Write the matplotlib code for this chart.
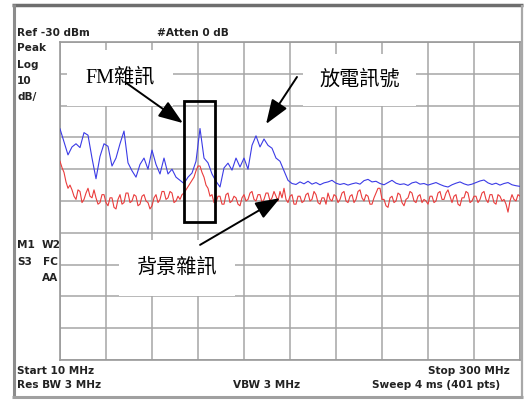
import numpy as np
import matplotlib
matplotlib.use("Agg")
import matplotlib.pyplot as plt
from matplotlib.patches import Rectangle

# sweep settings (MHz) and screen scale
f_start, f_stop = 10, 300
ref_level = -30
db_per_div = 10

# trace 1 (blue): discharge measurement, dBm
blue_trace = [
    -57.3, -61.4, -65.5, -63.0, -62.0, -63.2, -58.5, -59.3, -66.5, -73.0,
    -66.0, -62.0, -62.8, -69.0, -66.5, -62.0, -58.0, -68.0, -70.5, -72.5,
    -68.5, -66.5, -70.0, -64.0, -68.5, -71.5, -66.5, -71.5, -70.0, -72.5,
    -73.5, -74.5, -72.5, -71.2, -67.5, -57.2, -66.5, -68.0, -71.5, -73.8,
    -75.6, -69.6, -68.1, -70.3, -66.5, -69.3, -66.5, -70.0, -62.5, -59.5,
    -63.0, -60.5, -62.5, -63.4, -66.5, -67.5, -70.5, -73.5, -74.5, -74.8,
    -74.0, -74.6, -73.8, -74.7, -74.2, -74.9, -74.3, -74.0, -73.5, -74.4,
    -74.8, -74.5, -75.0, -74.6, -74.3, -74.7, -73.6, -73.2, -74.0, -73.8,
    -74.5, -74.9, -74.2, -73.5, -74.4, -74.8, -74.6, -75.1, -74.3, -74.0,
    -74.7, -74.5, -75.0, -74.6, -74.2, -74.8, -75.3, -75.6, -74.9, -74.4,
    -74.0, -74.6, -75.0, -74.7, -74.2, -73.7, -73.4, -74.3, -74.8, -74.4,
    -75.0, -74.5, -74.2, -74.9, -75.2, -75.4,
]

# trace 2 (red): background noise, dBm
red_trace = [
    -67.5, -69.5, -71.0, -74.0, -76.0, -75.0, -76.5, -78.5, -79.5, -76.5,
    -77.0, -80.5, -79.5, -77.5, -76.0, -78.5, -79.0, -76.5, -79.0, -81.0,
    -80.5, -78.0, -78.0, -80.5, -81.5, -79.0, -79.0, -82.0, -82.5, -79.5,
    -78.0, -81.0, -80.5, -77.5, -77.5, -80.5, -80.0, -78.0, -78.5, -81.5,
    -81.0, -78.5, -78.0, -80.0, -80.5, -82.5, -81.5, -79.0, -78.0, -80.5,
    -79.5, -77.0, -77.0, -79.5, -79.0, -77.0, -77.5, -80.5, -80.0, -78.5,
    -79.5, -78.0, -77.5, -76.5, -75.5, -74.5, -73.5, -72.5, -70.5, -69.0,
    -69.0, -71.0, -72.5, -75.0, -76.0, -78.5, -78.0, -80.5, -80.5, -78.5,
    -78.5, -81.0, -81.0, -78.0, -77.5, -80.5, -80.0, -78.5, -79.0, -81.0,
    -81.5, -79.0, -78.0, -80.0, -79.5, -77.5, -77.0, -79.5, -80.0, -78.0,
    -78.0, -80.5, -79.5, -77.5, -77.5, -80.0, -79.0, -77.0, -78.5, -80.0,
    -77.0, -79.0, -76.0, -79.5, -80.5, -78.5, -78.0, -81.0, -81.0, -78.5,
    -78.5, -80.5, -80.0, -78.0, -77.5, -80.0, -79.5, -77.0, -78.0, -80.5,
    -81.0, -79.0, -79.0, -81.0, -77.5, -79.5, -80.0, -78.0, -78.5, -80.5,
    -79.5, -77.5, -77.0, -80.0, -80.5, -78.5, -78.0, -80.5, -79.5, -77.0,
    -76.5, -79.0, -80.0, -78.0, -78.5, -81.0, -81.0, -79.0, -77.5, -76.0,
    -76.0, -79.5, -79.5, -81.5, -82.0, -79.0, -78.5, -80.5, -80.0, -77.5,
    -78.0, -80.5, -81.5, -79.5, -79.0, -77.0, -77.5, -80.0, -80.5, -78.5,
    -78.0, -80.5, -79.5, -80.0, -81.0, -78.5, -78.5, -80.5, -80.0, -77.5,
    -77.0, -79.5, -79.5, -77.5, -76.5, -78.5, -80.5, -78.5, -78.0, -81.0,
    -81.5, -79.0, -79.0, -77.0, -77.5, -80.5, -80.0, -78.5, -78.5, -80.5,
    -79.5, -77.5, -77.0, -79.5, -80.5, -78.0, -78.0, -80.5, -81.0, -78.0,
    -78.5, -80.0, -79.5, -81.0, -83.5, -80.0, -78.0, -79.5, -80.0, -78.0,
    -78.5,
]

fm_band = (88, 108)
fm_box_db = (-86.5, -48.5)

freq_blue = np.linspace(f_start, f_stop, len(blue_trace))
freq_red = np.linspace(f_start, f_stop, len(red_trace))

W, H = 525, 401
fig = plt.figure(figsize=(W / 100, H / 100), dpi=100)

# screen frame + header/footer texts, in pixel units
bg = fig.add_axes([0, 0, 1, 1], zorder=0)
bg.set_xlim(0, W)
bg.set_ylim(H, 0)
bg.axis("off")
bg.plot([12, 523], [5, 5], color="#6e6e6e", lw=2.5, solid_capstyle="butt")
bg.plot([13.5, 13.5], [4, 398], color="#8c8c8c", lw=2.2, solid_capstyle="butt")
bg.plot([521.5, 521.5], [5, 398], color="#a8a8a8", lw=1.6, solid_capstyle="butt")
bg.plot([12, 523], [396.5, 396.5], color="#a0a0a0", lw=2.2, solid_capstyle="butt")

lab = dict(fontsize=7.6, fontweight="bold", color="#222222", va="center",
           family="DejaVu Sans")
bg.text(17, 33, "Ref -30 dBm", **lab)
bg.text(157, 33, "#Atten 0 dB", **lab)
bg.text(17, 48, "Peak", **lab)
bg.text(17, 65, "Log", **lab)
bg.text(17, 81, "10", **lab)
bg.text(17, 97, "dB/", **lab)
bg.text(17, 245, "M1", **lab)
bg.text(42, 245, "W2", **lab)
bg.text(17, 262, "S3", **lab)
bg.text(58, 262, "FC", ha="right", **lab)
bg.text(58, 278, "AA", ha="right", **lab)
bg.text(17, 371, "Start 10 MHz", **lab)
bg.text(17, 385, "Res BW 3 MHz", **lab)
bg.text(233, 385, "VBW 3 MHz", **lab)
bg.text(510, 371, "Stop 300 MHz", ha="right", **lab)
bg.text(500, 385, "Sweep 4 ms (401 pts)", ha="right", **lab)

# graticule
ax = fig.add_axes([60 / W, 1 - 360 / H, 460 / W, 318 / H], zorder=1)
ax.set_xlim(f_start, f_stop)
ax.set_ylim(ref_level - 10 * db_per_div, ref_level)
ax.set_xticks(np.linspace(f_start, f_stop, 11))
ax.set_yticks(np.arange(ref_level - 10 * db_per_div, ref_level + 1, db_per_div))
ax.grid(True, color="#a6a6a6", lw=1.1)
ax.tick_params(length=0, labelbottom=False, labelleft=False)
for s in ax.spines.values():
    s.set_color("#9a9a9a")
    s.set_linewidth(1.2)

ax.plot(freq_blue, blue_trace, color="#3b3be6", lw=0.8, zorder=4)
ax.plot(freq_red, red_trace, color="#ea3c3c", lw=0.8, zorder=4)

ax.add_patch(Rectangle((fm_band[0], fm_box_db[0]), fm_band[1] - fm_band[0],
                       fm_box_db[1] - fm_box_db[0], fill=False,
                       ec="black", lw=2.0, zorder=6))

cjk = ["Liberation Serif", "Noto Sans CJK TC"]
box = dict(fc="white", ec="none")
ax.text(47.8, -41.3, "FM雜訊", family=cjk, fontsize=14.5, ha="center",
        va="center", zorder=5, clip_on=False,
        bbox=dict(boxstyle="square,pad=0.9", **box))
ax.text(199, -42, "放電訊號", family=cjk, fontsize=14.5, ha="center",
        va="center", zorder=5, bbox=dict(boxstyle="square,pad=0.8", **box))
ax.text(83.8, -101.1, "背景雜訊", family=cjk, fontsize=14.5, ha="center",
        va="center", zorder=5, bbox=dict(boxstyle="square,pad=0.9", **box))

arrow = dict(arrowstyle="-|>,head_length=1.5,head_width=0.55", color="black",
             lw=1.4, shrinkA=0, shrinkB=0, mutation_scale=10)
ax.annotate("", xy=(87.5, -55.5), xytext=(51, -42.6), arrowprops=arrow,
            zorder=7)
ax.annotate("", xy=(139.9, -55.8), xytext=(159.4, -41.0), arrowprops=arrow,
            zorder=7)
ax.annotate("", xy=(148.7, -79.1), xytext=(98.3, -93.8), arrowprops=arrow,
            zorder=7)

fig.savefig("out.png", dpi=100)
